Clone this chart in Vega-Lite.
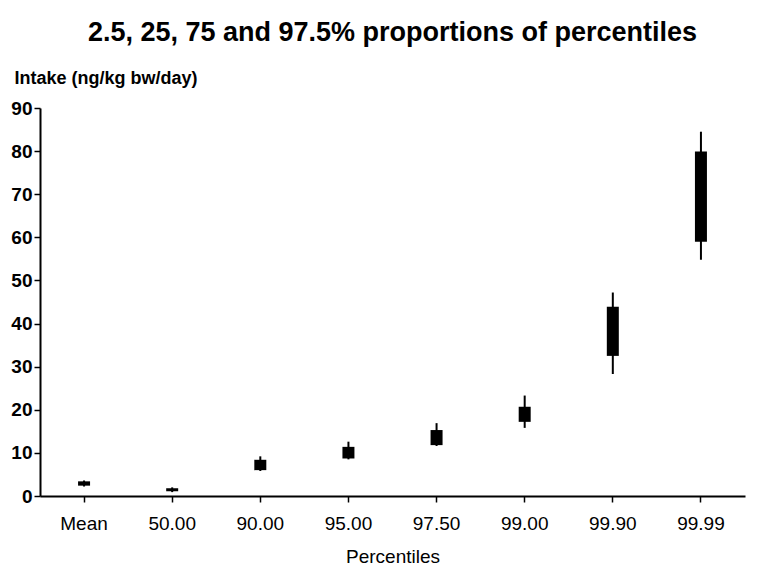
{
  "$schema": "https://vega.github.io/schema/vega-lite/v6.json",
  "width": 705,
  "height": 388,
  "autosize": {"type": "none"},
  "padding": {"left": 40, "top": 108, "right": 12, "bottom": 75},
  "background": "white",
  "title": {
    "text": "2.5, 25, 75 and 97.5% proportions of percentiles",
    "font": "Liberation Sans",
    "fontSize": 27,
    "fontWeight": "bold",
    "color": "black",
    "frame": "group",
    "anchor": "middle",
    "offset": 22
  },
  "config": {
    "view": {"stroke": null},
    "axis": {"domainColor": "black", "tickColor": "black", "labelColor": "black", "titleColor": "black", "labelFont": "Liberation Sans", "titleFont": "Liberation Sans", "grid": false}
  },
  "data": {
    "values": [
      {"p": "Mean", "lo": 2.2, "q1": 2.4, "q3": 3.4, "hi": 3.6},
      {"p": "50.00", "lo": 0.9, "q1": 1.1, "q3": 1.8, "hi": 2.0},
      {"p": "90.00", "lo": 5.8, "q1": 6.0, "q3": 8.4, "hi": 9.2},
      {"p": "95.00", "lo": 8.5, "q1": 8.7, "q3": 11.4, "hi": 12.6},
      {"p": "97.50", "lo": 11.6, "q1": 11.8, "q3": 15.3, "hi": 16.9},
      {"p": "99.00", "lo": 15.8, "q1": 17.2, "q3": 20.7, "hi": 23.3},
      {"p": "99.90", "lo": 28.3, "q1": 32.5, "q3": 43.9, "hi": 47.2},
      {"p": "99.99", "lo": 54.8, "q1": 59.0, "q3": 79.9, "hi": 84.5}
    ]
  },
  "encoding": {
    "x": {
      "field": "p", "type": "nominal",
      "sort": ["Mean", "50.00", "90.00", "95.00", "97.50", "99.00", "99.90", "99.99"],
      "scale": {"paddingInner": 0, "paddingOuter": 0},
      "axis": {
        "title": "Percentiles", "titleFontSize": 19, "titleFontWeight": "normal", "titlePadding": 14,
        "labelAngle": 0, "labelFontSize": 19, "labelFontWeight": "normal", "labelPadding": 12, "tickSize": 6, "tickWidth": 1.5, "domainWidth": 2
      }
    }
  },
  "layer": [
    {
      "mark": {"type": "rule", "color": "black", "strokeWidth": 2},
      "encoding": {
        "y": {
          "field": "lo", "type": "quantitative",
          "scale": {"domain": [0, 90], "nice": false},
          "axis": {
            "title": "Intake (ng/kg bw/day)", "titleAngle": 0, "titleAlign": "left", "titleBaseline": "alphabetic",
            "titleX": -26, "titleY": -25, "titleFontSize": 18, "titleFontWeight": "bold",
            "values": [0, 5, 10, 15, 20, 25, 30, 35, 40, 45, 50, 55, 60, 65, 70, 75, 80, 85, 90],
            "labelExpr": "datum.value % 10 === 0 ? datum.label : ''",
            "labelFontSize": 19, "labelFontWeight": "bold", "labelPadding": 2,
            "tickSize": 6, "tickWidth": 1.5, "domainWidth": 2
          }
        },
        "y2": {"field": "hi"}
      }
    },
    {
      "mark": {"type": "bar", "color": "black", "size": 12},
      "encoding": {
        "y": {"field": "q1", "type": "quantitative"},
        "y2": {"field": "q3"}
      }
    }
  ]
}
